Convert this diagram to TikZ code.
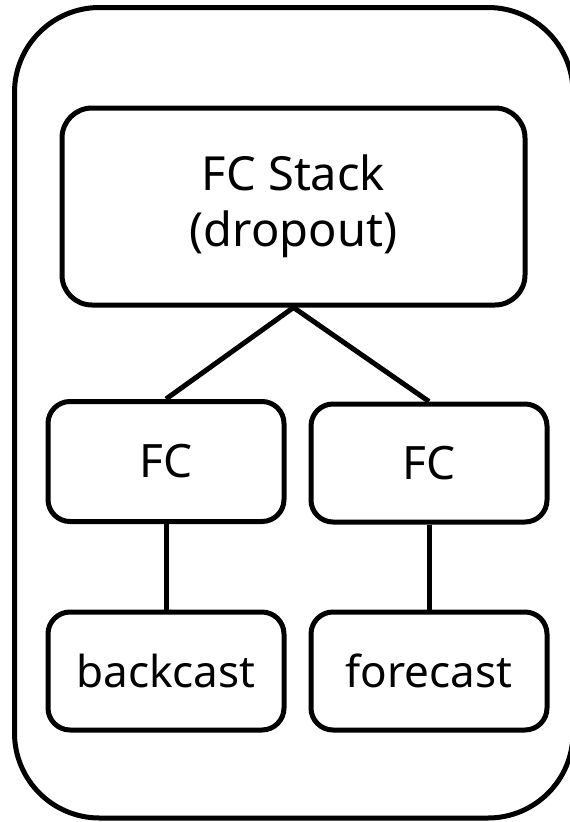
\documentclass[tikz,border=0pt]{standalone}
\usepackage{fontspec}
\setmainfont{Noto Sans}
\begin{document}
\begin{tikzpicture}[x=1pt, y=-1pt,
  box/.style={draw, line width=5pt, rounded corners=22pt, align=center,
    font=\fontsize{44}{54}\selectfont, inner sep=0pt},
  link/.style={line width=5pt}]
  \useasboundingbox (0,0) rectangle (570,822);
  % outer frame
  \draw[line width=5pt, rounded corners=85pt] (14.5,7.5) rectangle (573,818);
  % blocks
  \node[box, rounded corners=30pt, minimum width=463pt, minimum height=197pt,
    font=\fontsize{47}{56}\selectfont]
    (stack) at (293.5,206.5) {FC Stack\\(dropout)};
  \node[box, minimum width=236pt, minimum height=120pt,
    font=\fontsize{46}{54}\selectfont] (fcl) at (166,461.5) {FC};
  \node[box, minimum width=236pt, minimum height=118pt,
    font=\fontsize{46}{54}\selectfont] (fcr) at (429,463) {FC};
  \node[box, minimum width=236pt, minimum height=118pt] (back) at (166,671) {backcast};
  \node[box, minimum width=236pt, minimum height=118pt] (fore) at (429,671) {forecast};
  % connectors
  \draw[link] (stack.south) -- (fcl.north);
  \draw[link] (stack.south) -- (fcr.north);
  \draw[link] (fcl.south) -- (back.north);
  \draw[link] (fcr.south) -- (fore.north);
\end{tikzpicture}
\end{document}
